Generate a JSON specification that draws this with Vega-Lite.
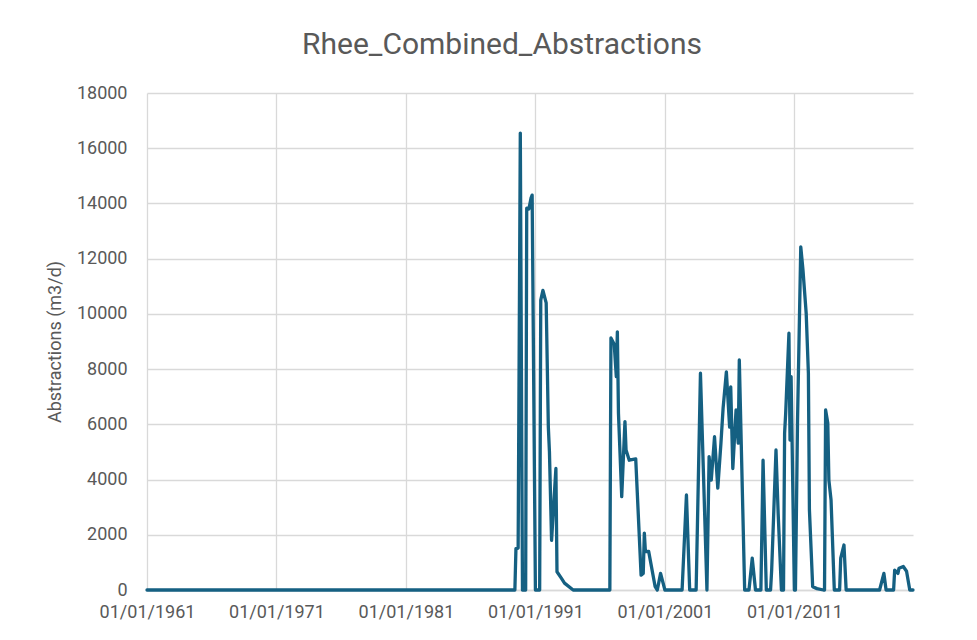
{
  "$schema": "https://vega.github.io/schema/vega-lite/v6.json",
  "autosize": {"type": "none"},
  "width": 766,
  "height": 497,
  "padding": {"left": 147, "top": 93, "right": 64, "bottom": 50},
  "background": "white",
  "title": {
    "text": "Rhee_Combined_Abstractions",
    "anchor": "middle",
    "frame": "group",
    "dx": -28,
    "offset": 24,
    "fontSize": 30,
    "fontWeight": "normal",
    "font": "Roboto",
    "color": "#595959"
  },
  "config": {
    "view": {"stroke": null},
    "axis": {
      "labelFont": "Roboto",
      "titleFont": "Roboto",
      "labelColor": "#595959",
      "titleColor": "#595959",
      "labelFontSize": 18,
      "titleFontSize": 18,
      "titleFontWeight": "normal",
      "gridColor": "#d9d9d9",
      "gridWidth": 1.3,
      "ticks": false
    }
  },
  "data": {
    "values": [
      {"date": "1961-01-01", "value": 0},
      {"date": "1989-06-01", "value": 0},
      {"date": "1989-07-01", "value": 1500},
      {"date": "1989-09-01", "value": 1520},
      {"date": "1989-11-01", "value": 16550},
      {"date": "1990-01-01", "value": 0},
      {"date": "1990-04-01", "value": 0},
      {"date": "1990-05-01", "value": 13830},
      {"date": "1990-07-01", "value": 13800},
      {"date": "1990-09-01", "value": 14200},
      {"date": "1990-10-01", "value": 14300},
      {"date": "1991-01-01", "value": 0},
      {"date": "1991-05-01", "value": 0},
      {"date": "1991-06-01", "value": 10500},
      {"date": "1991-08-01", "value": 10850},
      {"date": "1991-11-01", "value": 10400},
      {"date": "1992-01-01", "value": 5900},
      {"date": "1992-02-01", "value": 5000},
      {"date": "1992-04-01", "value": 1800},
      {"date": "1992-08-01", "value": 4400},
      {"date": "1992-09-01", "value": 660},
      {"date": "1993-01-01", "value": 430},
      {"date": "1993-04-01", "value": 250},
      {"date": "1993-12-01", "value": 0},
      {"date": "1996-10-01", "value": 0},
      {"date": "1996-11-01", "value": 9130},
      {"date": "1997-02-01", "value": 8900},
      {"date": "1997-04-01", "value": 7730},
      {"date": "1997-05-01", "value": 9350},
      {"date": "1997-06-01", "value": 6400},
      {"date": "1997-09-01", "value": 3380},
      {"date": "1997-12-01", "value": 6100},
      {"date": "1998-01-01", "value": 5070},
      {"date": "1998-04-01", "value": 4700},
      {"date": "1998-10-01", "value": 4750},
      {"date": "1999-03-01", "value": 540},
      {"date": "1999-05-01", "value": 600},
      {"date": "1999-06-01", "value": 2060},
      {"date": "1999-07-01", "value": 1390},
      {"date": "1999-10-01", "value": 1400},
      {"date": "2000-04-01", "value": 120},
      {"date": "2000-06-01", "value": 0},
      {"date": "2000-09-01", "value": 600},
      {"date": "2001-01-01", "value": 0},
      {"date": "2002-05-01", "value": 0},
      {"date": "2002-09-01", "value": 3440},
      {"date": "2002-12-01", "value": 0},
      {"date": "2003-06-01", "value": 0},
      {"date": "2003-10-01", "value": 7850},
      {"date": "2004-04-01", "value": 0},
      {"date": "2004-06-01", "value": 4830},
      {"date": "2004-08-01", "value": 3980},
      {"date": "2004-11-01", "value": 5550},
      {"date": "2005-02-01", "value": 3690},
      {"date": "2005-05-01", "value": 5320},
      {"date": "2005-07-01", "value": 6590},
      {"date": "2005-10-01", "value": 7900},
      {"date": "2006-01-01", "value": 5900},
      {"date": "2006-02-01", "value": 7360},
      {"date": "2006-04-01", "value": 4400},
      {"date": "2006-07-01", "value": 6520},
      {"date": "2006-09-01", "value": 5320},
      {"date": "2006-10-01", "value": 8330},
      {"date": "2007-03-01", "value": 0},
      {"date": "2007-07-01", "value": 0},
      {"date": "2007-10-01", "value": 1150},
      {"date": "2008-01-01", "value": 0},
      {"date": "2008-06-01", "value": 0},
      {"date": "2008-08-01", "value": 4700},
      {"date": "2008-11-01", "value": 0},
      {"date": "2009-03-01", "value": 0},
      {"date": "2009-04-01", "value": 720},
      {"date": "2009-08-01", "value": 5070},
      {"date": "2009-10-01", "value": 2780},
      {"date": "2010-01-01", "value": 0},
      {"date": "2010-03-01", "value": 0},
      {"date": "2010-04-01", "value": 5680},
      {"date": "2010-05-01", "value": 6400},
      {"date": "2010-08-01", "value": 9300},
      {"date": "2010-09-01", "value": 5430},
      {"date": "2010-10-01", "value": 7730},
      {"date": "2011-01-01", "value": 0},
      {"date": "2011-02-01", "value": 0},
      {"date": "2011-04-01", "value": 6160},
      {"date": "2011-07-01", "value": 12430},
      {"date": "2011-09-01", "value": 11590},
      {"date": "2011-12-01", "value": 10020},
      {"date": "2012-02-01", "value": 7850},
      {"date": "2012-03-01", "value": 2900},
      {"date": "2012-06-01", "value": 120},
      {"date": "2012-10-01", "value": 50},
      {"date": "2013-04-01", "value": 0},
      {"date": "2013-05-01", "value": 0},
      {"date": "2013-06-01", "value": 6520},
      {"date": "2013-08-01", "value": 6050},
      {"date": "2013-09-01", "value": 3980},
      {"date": "2013-11-01", "value": 3260},
      {"date": "2014-02-01", "value": 0},
      {"date": "2014-07-01", "value": 0},
      {"date": "2014-08-01", "value": 1150},
      {"date": "2014-11-01", "value": 1630},
      {"date": "2015-01-01", "value": 0},
      {"date": "2017-08-01", "value": 0},
      {"date": "2017-12-01", "value": 600},
      {"date": "2018-02-01", "value": 0},
      {"date": "2018-09-01", "value": 0},
      {"date": "2018-10-01", "value": 720},
      {"date": "2019-01-01", "value": 600},
      {"date": "2019-02-01", "value": 790},
      {"date": "2019-06-01", "value": 850},
      {"date": "2019-09-01", "value": 680},
      {"date": "2019-12-01", "value": 0},
      {"date": "2020-03-01", "value": 0}
    ]
  },
  "mark": {"type": "line", "color": "#156082", "strokeWidth": 3.3, "strokeJoin": "round", "strokeCap": "round"},
  "encoding": {
    "x": {
      "field": "date",
      "type": "temporal",
      "scale": {"type": "utc", "domain": [{"year": 1961, "month": 1, "date": 1, "utc": true}, {"year": 2020, "month": 3, "date": 1, "utc": true}]},
      "axis": {
        "title": null,
        "values": [
          {"year": 1961, "month": 1, "date": 1, "utc": true},
          {"year": 1971, "month": 1, "date": 1, "utc": true},
          {"year": 1981, "month": 1, "date": 1, "utc": true},
          {"year": 1991, "month": 1, "date": 1, "utc": true},
          {"year": 2001, "month": 1, "date": 1, "utc": true},
          {"year": 2011, "month": 1, "date": 1, "utc": true}
        ],
        "labelExpr": "utcFormat(datum.value, '%d/%m/%Y')",
        "labelPadding": 13,
        "labelFlush": false,
        "labelOverlap": false,
        "domainColor": "#d9d9d9",
        "domainWidth": 1.3
      }
    },
    "y": {
      "field": "value",
      "type": "quantitative",
      "scale": {"domain": [0, 18000], "nice": false},
      "axis": {
        "title": "Abstractions (m3/d)",
        "values": [0, 2000, 4000, 6000, 8000, 10000, 12000, 14000, 16000, 18000],
        "format": "d",
        "labelPadding": 20,
        "titlePadding": 12,
        "domain": false
      }
    }
  }
}
